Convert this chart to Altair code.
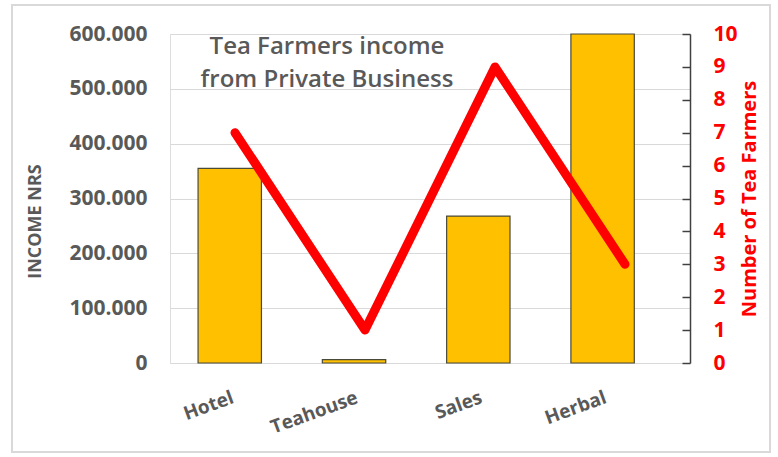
import altair as alt
import pandas as pd

categories = ["Hotel", "Teahouse", "Sales", "Herbal"]
income = [355000, 6000, 268000, 600000]
farmers = [7, 1, 9, 3]
income_ticks = [0, 100000, 200000, 300000, 400000, 500000, 600000]
farmer_ticks = list(range(0, 11))

df = pd.DataFrame({"cat": categories, "income": income, "farmers": farmers})

W, H = 520, 329
GRAY = "#595959"
RED = "#ff0000"
FONT = "Open Sans"

base = alt.Chart(df)

border = base.mark_rect(fillOpacity=0, stroke="#d9d9d9", strokeWidth=2).encode(
    x=alt.value(-158), x2=alt.value(600), y=alt.value(-29), y2=alt.value(418)
).transform_filter("datum.cat == 'Hotel'")

bars = base.mark_bar(color="#FFC000", stroke="#4a4a3a", strokeWidth=1.2).encode(
    x=alt.X("cat:N", sort=categories,
            scale=alt.Scale(paddingInner=0.49, paddingOuter=0.337, align=0.335),
            axis=alt.Axis(title=None, labelAngle=-20, labelAlign="right", labelBaseline="top",
                          labelPadding=25, ticks=False, domain=False, grid=False,
                          labelFont=FONT, labelFontSize=19, labelFontWeight="bold",
                          labelColor=GRAY)),
    y=alt.Y("income:Q", scale=alt.Scale(domain=[0, 600000], nice=False),
            axis=alt.Axis(title="INCOME NRS", values=income_ticks,
                          labelExpr="replace(format(datum.value, ','), ',', '.')",
                          domain=False, ticks=False, grid=True, gridColor="#d9d9d9",
                          gridWidth=1, labelPadding=23,
                          labelFont=FONT, labelFontSize=21, labelFontWeight="bold",
                          labelColor=GRAY, titleFont=FONT, titleFontSize=18,
                          titleFontWeight="bold", titleColor=GRAY, titlePadding=24,
                          titleY=187)),
)

line = base.mark_line(color=RED, strokeWidth=9, strokeCap="round", strokeJoin="round").encode(
    x=alt.X("cat:N", sort=categories, scale=alt.Scale(type="point", padding=0.5), axis=None),
    y=alt.Y("farmers:Q", scale=alt.Scale(domain=[0, 10], nice=False),
            axis=alt.Axis(orient="right", title="Number of Tea Farmers", values=farmer_ticks,
                          domain=False, ticks=False, grid=False, labelPadding=23,
                          labelFont=FONT, labelFontSize=21, labelFontWeight="bold",
                          labelColor=RED, titleFont=FONT, titleFontSize=20,
                          titleFontWeight="bold", titleColor=RED, titlePadding=2,
                          titleAngle=270, titleBaseline="top")),
)

ticks_layer = base.mark_line(opacity=0).encode(
    x=alt.X("cat:N", sort=categories, scale=alt.Scale(type="point", padding=0.5), axis=None),
    y=alt.Y("farmers:Q", scale=alt.Scale(domain=[0, 10], nice=False),
            axis=alt.Axis(orient="left", offset=-W, values=farmer_ticks, labels=False,
                          title=None, domain=True, domainColor="#404040", domainWidth=1.5,
                          ticks=True, tickColor="#404040", tickWidth=1.5, tickSize=8,
                          grid=False)),
)

chart = alt.layer(border, bars, line, ticks_layer).resolve_scale(
    x="independent", y="independent"
).properties(
    width=W, height=H,
    autosize=alt.AutoSizeParams(type="none"),
    padding={"left": 170, "top": 34, "right": 88, "bottom": 94},
    title=alt.TitleParams(["Tea Farmers income", "from Private Business"], anchor="middle",
                          frame="group", dx=-103, dy=92, font=FONT, fontSize=24,
                          fontWeight=600, color=GRAY, lineHeight=33, baseline="top"),
).configure_view(stroke=None).configure(background="white")

chart.save("out.html", embed_options={"renderer": "svg", "actions": False})
